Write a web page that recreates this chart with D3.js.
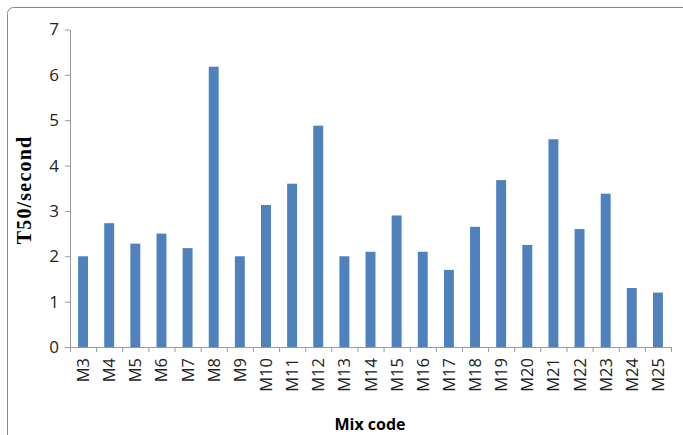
<!DOCTYPE html>
<html><head><meta charset="utf-8">
<script src="https://cdn.jsdelivr.net/npm/d3@7"></script>
<style>body{margin:0;background:#fff;} text{font-family:"Open Sans",sans-serif;}</style>
</head><body><svg id="c" width="683" height="435"></svg>
<script>
var categories = ["M3","M4","M5","M6","M7","M8","M9","M10","M11","M12","M13","M14","M15","M16","M17","M18","M19","M20","M21","M22","M23","M24","M25"];
var values = [2.0,2.73,2.28,2.5,2.18,6.18,2.0,3.13,3.6,4.88,2.0,2.1,2.9,2.1,1.7,2.65,3.68,2.25,4.58,2.6,3.38,1.3,1.2];
var yTicks = [0,1,2,3,4,5,6,7];

var svg = d3.select("#c");
svg.append("rect").attr("x",7.5).attr("y",7.5).attr("width",690).attr("height",440)
  .attr("rx",6).attr("fill","none").attr("stroke","#888").attr("stroke-width",1);

var x = d3.scaleBand().domain(categories).range([70,671]).paddingInner(0.62).paddingOuter(0.31);
var y = d3.scaleLinear().domain([0,7]).range([347,29.5]);

var ya = svg.append("g").attr("transform","translate(70,0)")
  .call(d3.axisLeft(y).tickValues(yTicks).tickFormat(d3.format("d")).tickSize(5).tickSizeOuter(0));
ya.select(".domain").attr("stroke","#999");
ya.selectAll("line").attr("stroke","#999");
ya.selectAll("text").attr("font-size",17).attr("fill","#222").attr("dx",-3);

var xa = svg.append("g").attr("transform","translate(0,347)")
  .call(d3.axisBottom(d3.scalePoint().domain(d3.range(categories.length+1)).range([70,671])).tickFormat("").tickSize(5).tickSizeOuter(0));
xa.select(".domain").attr("stroke","#999");
xa.selectAll("line").attr("stroke","#999");

svg.selectAll(".lbl").data(categories).enter().append("text")
  .attr("transform",function(d){return "translate("+(x(d)+x.bandwidth()/2+6)+",358) rotate(-90)";})
  .attr("text-anchor","end").attr("font-size",16.5).attr("fill","#222").text(function(d){return d;});

svg.selectAll(".bar").data(values).enter().append("rect")
  .attr("x",function(d,i){return x(categories[i]);})
  .attr("width",x.bandwidth())
  .attr("y",function(d){return y(d);})
  .attr("height",function(d){return y(0)-y(d);})
  .attr("fill","#4f81bd");

svg.append("text").attr("transform","translate(31,190) rotate(-90)").attr("text-anchor","middle")
  .style("font-family","'Liberation Serif',serif").attr("letter-spacing",1.2)
  .attr("font-weight","bold").attr("font-size",20).text("T50/second");
svg.append("text").attr("x",370).attr("y",430).attr("text-anchor","middle")
  .attr("font-weight","bold").attr("font-size",16).text("Mix code");
</script></body></html>
